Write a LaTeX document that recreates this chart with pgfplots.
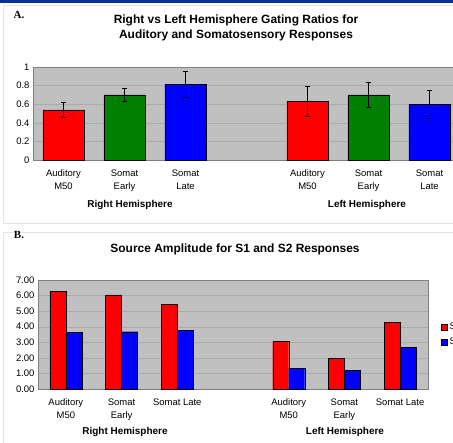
\documentclass[border=0pt]{standalone}
\usepackage{pgfplots}
\usepackage{pgfplotstable}
\pgfplotsset{compat=1.18}
\usepackage{fontspec}
\setmainfont{Liberation Sans}
\newfontfamily\labelfont{Liberation Serif}

\definecolor{plotgray}{RGB}{192,192,192}
\definecolor{gridgray}{RGB}{170,170,170}
\definecolor{framegray}{RGB}{228,228,228}
\definecolor{topblue}{RGB}{10,50,150}
\definecolor{xlred}{RGB}{255,0,0}
\definecolor{xlgreen}{RGB}{0,128,0}
\definecolor{xlblue}{RGB}{0,0,255}

% panel A: gating ratios (x = slot, err = error bar)
\pgfplotstableread{
x y err
0 0.54 0.08
4 0.63 0.16
}\gateRed
\pgfplotstableread{
x y err
1 0.70 0.07
5 0.70 0.135
}\gateGreen
\pgfplotstableread{
x y err
2 0.81 0.14
6 0.60 0.15
}\gateBlue

% panel B: source amplitude
\pgfplotstableread{
x s1 s2
0 6.28 3.62
1 6.05 3.68
2 5.43 3.78
4 3.05 1.33
5 1.97 1.22
6 4.27 2.68
}\amp

\pgfplotsset{
  xlstyle/.style={
    scale only axis,
    axis background/.style={fill=plotgray},
    axis line style={draw=gray},
    ymajorgrids, grid style={gridgray, line width=0.4pt},
    major tick length=0pt,
    xmin=-0.5, xmax=6.5,
    xtick={0,1,2,4,5,6},
    tick label style={font=\fontsize{9.5}{13}\selectfont},
    xticklabel style={align=center, yshift=-6bp},
    /pgf/number format/assume math mode=true,
  },
}

\begin{document}
\begin{tikzpicture}
\useasboundingbox (0,0) rectangle (453bp,-443bp);
\clip (0,0) rectangle (453bp,-443bp);
\fill[white] (0,0) rectangle (453bp,-443bp);
\fill[topblue] (0,0) rectangle (453bp,-3bp);
\draw[framegray] (3bp,-5bp) rectangle (470bp,-223bp);
\draw[framegray] (3bp,-232bp) rectangle (470bp,-450bp);

% ---- Panel A ----
\node[font=\labelfont\bfseries\fontsize{11}{12}\selectfont] at (19bp,-15bp) {A.};
\node[align=center, font=\bfseries\fontsize{12}{15}\selectfont] at (236bp,-28bp)
  {Right vs Left Hemisphere Gating Ratios for\\Auditory and Somatosensory Responses};
\begin{axis}[
  xlstyle,
  at={(33bp,-160bp)}, anchor=south west,
  width=427bp, height=93bp,
  ymin=0, ymax=1,
  ytick={0,0.2,0.4,0.6,0.8,1},
  xticklabels={Auditory\\M50, Somat\\Early, Somat\\Late, Auditory\\M50, Somat\\Early, Somat\\Late},
  ybar, bar width=0.68, bar shift=0pt,
  error bars/y dir=both, error bars/y explicit,
  error bars/error bar style={black, line width=0.5pt},
  error bars/error mark options={rotate=90, mark size=2.5bp, black, line width=0.5pt},
]
\addplot[fill=xlred, draw=black, line width=0.4pt] table[x=x, y=y, y error=err] {\gateRed};
\addplot[fill=xlgreen, draw=black, line width=0.4pt] table[x=x, y=y, y error=err] {\gateGreen};
\addplot[fill=xlblue, draw=black, line width=0.4pt] table[x=x, y=y, y error=err] {\gateBlue};
\end{axis}
\node[font=\bfseries\fontsize{10}{12}\selectfont] at (130bp,-205bp) {Right Hemisphere};
\node[font=\bfseries\fontsize{10}{12}\selectfont] at (367bp,-205bp) {Left Hemisphere};

% ---- Panel B ----
\node[font=\labelfont\bfseries\fontsize{11}{12}\selectfont] at (19bp,-235bp) {B.};
\node[font=\bfseries\fontsize{12}{14}\selectfont] at (235bp,-249bp)
  {Source Amplitude for S1 and S2 Responses};
\begin{axis}[
  xlstyle,
  at={(38bp,-389bp)}, anchor=south west,
  width=390bp, height=109bp,
  ymin=0, ymax=7,
  ytick={0,1,2,3,4,5,6,7},
  yticklabel style={/pgf/number format/.cd, fixed, fixed zerofill, precision=2},
  xticklabels={Auditory\\M50, Somat\\Early, Somat Late, Auditory\\M50, Somat\\Early, Somat Late},
  ybar=0pt, bar width=16bp,
  legend style={at={(1.026,0.5)}, anchor=west, draw=none, fill=none,
    font=\fontsize{9.5}{11}\selectfont, row sep=3bp},
  legend image code/.code={\fill[#1] (0bp,-3bp) rectangle (6bp,3bp);},
]
\addplot[fill=xlred, draw=black, line width=0.4pt] table[x=x, y=s1] {\amp};
\addplot[fill=xlblue, draw=black, line width=0.4pt] table[x=x, y=s2] {\amp};
\legend{S1, S2}
\end{axis}
\node[font=\bfseries\fontsize{10}{12}\selectfont] at (125bp,-432bp) {Right Hemisphere};
\node[font=\bfseries\fontsize{10}{12}\selectfont] at (345bp,-432bp) {Left Hemisphere};
\end{tikzpicture}
\end{document}
